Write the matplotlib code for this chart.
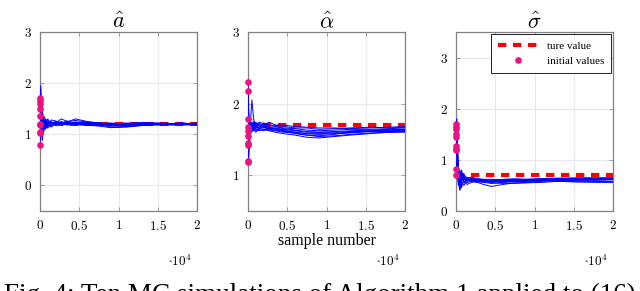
import numpy as np
import matplotlib
matplotlib.use('Agg')
import matplotlib.pyplot as plt
from matplotlib.ticker import FixedLocator, FixedFormatter

plt.rcParams['font.family'] = ['Liberation Serif', 'DejaVu Serif']
plt.rcParams['mathtext.fontset'] = 'cm'

# muestras (eje x)
samples = [0, 100, 200, 300, 500, 700, 1000, 1400, 2000, 2700, 3500, 4500,
           6000, 7500, 9000, 11000, 13000, 15500, 18000, 20000]

# estimaciones de a (10 simulaciones MC)
a_runs = [
    [1.70, 1.95, 1.60, 1.30, 1.15, 1.25, 1.20, 1.24, 1.22, 1.30, 1.25, 1.27, 1.24, 1.21, 1.20, 1.22, 1.21, 1.20, 1.21, 1.20],
    [1.65, 1.50, 1.30, 1.45, 1.30, 1.10, 1.18, 1.28, 1.26, 1.22, 1.24, 1.30, 1.25, 1.22, 1.19, 1.20, 1.22, 1.19, 1.20, 1.21],
    [1.60, 1.40, 1.20, 1.05, 1.35, 1.28, 1.15, 1.20, 1.24, 1.20, 1.22, 1.23, 1.20, 1.18, 1.16, 1.18, 1.20, 1.21, 1.19, 1.19],
    [1.50, 1.30, 1.45, 1.25, 1.10, 1.22, 1.30, 1.18, 1.20, 1.25, 1.19, 1.21, 1.22, 1.20, 1.14, 1.15, 1.18, 1.20, 1.22, 1.20],
    [1.35, 1.20, 1.10, 1.38, 1.25, 1.15, 1.22, 1.25, 1.18, 1.22, 1.26, 1.20, 1.19, 1.17, 1.18, 1.21, 1.23, 1.22, 1.20, 1.22],
    [1.20, 1.10, 1.40, 1.20, 1.05, 1.30, 1.25, 1.16, 1.21, 1.18, 1.20, 1.24, 1.21, 1.19, 1.21, 1.19, 1.19, 1.18, 1.18, 1.19],
    [1.18, 1.25, 1.00, 0.88, 1.20, 1.18, 1.12, 1.22, 1.19, 1.24, 1.21, 1.19, 1.18, 1.16, 1.13, 1.14, 1.17, 1.19, 1.21, 1.20],
    [1.05, 1.30, 1.35, 1.15, 1.28, 1.20, 1.26, 1.21, 1.25, 1.19, 1.23, 1.22, 1.23, 1.21, 1.22, 1.20, 1.18, 1.20, 1.19, 1.21],
    [1.03, 0.95, 1.15, 1.30, 1.12, 1.24, 1.18, 1.14, 1.20, 1.21, 1.18, 1.20, 1.17, 1.20, 1.17, 1.16, 1.20, 1.21, 1.20, 1.18],
    [0.80, 1.00, 1.25, 1.10, 1.22, 1.12, 1.20, 1.23, 1.17, 1.23, 1.20, 1.18, 1.20, 1.23, 1.19, 1.17, 1.21, 1.19, 1.22, 1.20],
]

# estimaciones de alpha
alpha_runs = [
    [2.30, 1.90, 1.70, 1.75, 1.68, 1.72, 1.70, 1.74, 1.72, 1.70, 1.68, 1.66, 1.65, 1.63, 1.62, 1.63, 1.64, 1.64, 1.65, 1.66],
    [2.18, 1.80, 1.60, 1.72, 2.05, 1.80, 1.65, 1.72, 1.70, 1.74, 1.70, 1.68, 1.66, 1.66, 1.64, 1.65, 1.66, 1.67, 1.66, 1.67],
    [1.78, 1.65, 1.75, 1.62, 1.70, 1.75, 1.68, 1.66, 1.73, 1.66, 1.64, 1.62, 1.58, 1.56, 1.55, 1.57, 1.60, 1.62, 1.62, 1.63],
    [1.67, 1.72, 1.66, 1.70, 1.74, 1.66, 1.72, 1.70, 1.68, 1.65, 1.66, 1.64, 1.62, 1.60, 1.60, 1.61, 1.62, 1.63, 1.64, 1.64],
    [1.62, 1.55, 1.68, 1.74, 1.65, 1.70, 1.74, 1.68, 1.66, 1.69, 1.70, 1.70, 1.68, 1.67, 1.66, 1.66, 1.65, 1.66, 1.67, 1.68],
    [1.55, 1.68, 1.72, 1.64, 1.60, 1.68, 1.65, 1.62, 1.64, 1.62, 1.60, 1.58, 1.56, 1.53, 1.52, 1.54, 1.56, 1.58, 1.60, 1.61],
    [1.45, 1.60, 1.75, 1.68, 1.72, 1.64, 1.60, 1.65, 1.69, 1.67, 1.65, 1.63, 1.60, 1.58, 1.57, 1.58, 1.59, 1.61, 1.62, 1.62],
    [1.42, 1.50, 1.62, 1.70, 1.66, 1.62, 1.68, 1.72, 1.67, 1.63, 1.62, 1.60, 1.59, 1.56, 1.54, 1.55, 1.57, 1.59, 1.60, 1.60],
    [1.20, 1.35, 1.55, 1.60, 1.72, 1.70, 1.62, 1.66, 1.64, 1.64, 1.63, 1.61, 1.60, 1.58, 1.58, 1.59, 1.60, 1.61, 1.61, 1.62],
    [1.18, 1.25, 1.45, 1.58, 1.62, 1.66, 1.70, 1.64, 1.62, 1.66, 1.68, 1.65, 1.63, 1.61, 1.60, 1.60, 1.61, 1.62, 1.63, 1.64],
]

# estimaciones de sigma
sigma_runs = [
    [1.70, 1.80, 1.20, 0.80, 0.60, 0.45, 0.65, 0.58, 0.62, 0.60, 0.58, 0.60, 0.62, 0.63, 0.62, 0.63, 0.64, 0.63, 0.64, 0.64],
    [1.65, 1.55, 1.00, 0.70, 0.45, 0.75, 0.55, 0.62, 0.58, 0.56, 0.52, 0.48, 0.52, 0.55, 0.56, 0.58, 0.60, 0.61, 0.62, 0.62],
    [1.50, 1.40, 0.90, 0.55, 0.40, 0.60, 0.70, 0.55, 0.60, 0.62, 0.60, 0.58, 0.57, 0.58, 0.58, 0.60, 0.62, 0.62, 0.63, 0.63],
    [1.45, 1.60, 1.10, 0.85, 0.65, 0.55, 0.50, 0.60, 0.64, 0.63, 0.62, 0.62, 0.60, 0.59, 0.60, 0.62, 0.63, 0.62, 0.61, 0.62],
    [1.28, 1.20, 0.85, 0.60, 0.70, 0.80, 0.62, 0.66, 0.62, 0.60, 0.59, 0.55, 0.54, 0.54, 0.55, 0.56, 0.58, 0.57, 0.56, 0.56],
    [1.22, 1.10, 0.75, 0.50, 0.55, 0.65, 0.58, 0.52, 0.56, 0.58, 0.56, 0.54, 0.56, 0.57, 0.58, 0.59, 0.58, 0.57, 0.57, 0.57],
    [1.20, 1.30, 0.95, 0.65, 0.80, 0.60, 0.66, 0.62, 0.58, 0.57, 0.57, 0.58, 0.59, 0.61, 0.62, 0.63, 0.64, 0.65, 0.65, 0.65],
    [0.82, 1.00, 0.80, 0.60, 0.52, 0.70, 0.60, 0.65, 0.60, 0.61, 0.61, 0.60, 0.60, 0.60, 0.61, 0.62, 0.61, 0.60, 0.60, 0.61],
    [0.70, 0.85, 0.70, 0.75, 0.60, 0.50, 0.58, 0.60, 0.62, 0.59, 0.58, 0.56, 0.58, 0.59, 0.59, 0.60, 0.60, 0.59, 0.58, 0.58],
    [1.60, 1.70, 1.30, 0.90, 0.58, 0.62, 0.72, 0.64, 0.66, 0.63, 0.61, 0.59, 0.61, 0.62, 0.61, 0.61, 0.62, 0.63, 0.63, 0.63],
]

true_values = [1.2, 1.7, 0.7]
titles = [r'$\hat{a}$', r'$\hat{\alpha}$', r'$\hat{\sigma}$']
ylims = [(-0.5, 3), (0.5, 3), (0, 3.5)]
yticks = [[0, 1, 2, 3], [1, 2, 3], [0, 1, 2, 3]]
xticks = [0, 5000, 10000, 15000, 20000]
xtick_labels = ['0', '0.5', '1', '1.5', '2']

magenta = '#e8147f'
lefts = [40/640, 248/640, 456/640]

fig = plt.figure(figsize=(6.4, 2.91), dpi=100)

runs_all = [a_runs, alpha_runs, sigma_runs]
for i in range(3):
    ax = fig.add_axes([lefts[i], 1 - 211/291, 157/640, 179/291])
    ax.plot([0, 20000], [true_values[i], true_values[i]], color='red', lw=3,
            dashes=(2.0, 1.6), zorder=2, label='ture value')
    for run in runs_all[i]:
        ax.plot(samples, run, color='blue', lw=0.7, zorder=3)
    init = [run[0] for run in runs_all[i]]
    ax.plot(np.zeros(len(init)), init, 'o', color=magenta, ms=4.8, mec='none',
            zorder=4, clip_on=False, label='initial values')

    ax.set_xlim(0, 20000)
    ax.set_ylim(*ylims[i])
    ax.xaxis.set_major_locator(FixedLocator(xticks))
    ax.xaxis.set_major_formatter(FixedFormatter(['$%s$' % t for t in xtick_labels]))
    ax.yaxis.set_major_locator(FixedLocator(yticks[i]))
    ax.yaxis.set_major_formatter(FixedFormatter(['$%d$' % t for t in yticks[i]]))
    ax.tick_params(direction='in', length=3, width=0.5, color='#808080',
                   labelsize=9.5, pad=6, top=True, right=True)
    ax.grid(True, color='#e8e8e8', lw=0.8)
    ax.set_axisbelow(True)
    for sp in ax.spines.values():
        sp.set_color('#808080')
        sp.set_linewidth(0.9)
    ax.set_title(titles[i], fontsize=16, pad=3)
    ax.text(0.97, -0.24, r'$\cdot 10^4$', transform=ax.transAxes,
            ha='right', va='top', fontsize=9.5)

    if i == 1:
        ax.set_xlabel('sample number', fontsize=11.5, labelpad=0)
    if i == 2:
        leg = ax.legend(loc='upper right', fontsize=8, fancybox=False,
                        edgecolor='black', framealpha=1, handlelength=3.6,
                        borderaxespad=0.2, labelspacing=0.5, borderpad=0.6)
        leg.get_frame().set_linewidth(0.6)

fig.text(0.5, 1 - 283/291, 'Fig. 4: Ten MC simulations of Algorithm 1 applied to (16)',
         ha='center', va='top', fontsize=19.5)

fig.savefig('out.png', dpi=100)
